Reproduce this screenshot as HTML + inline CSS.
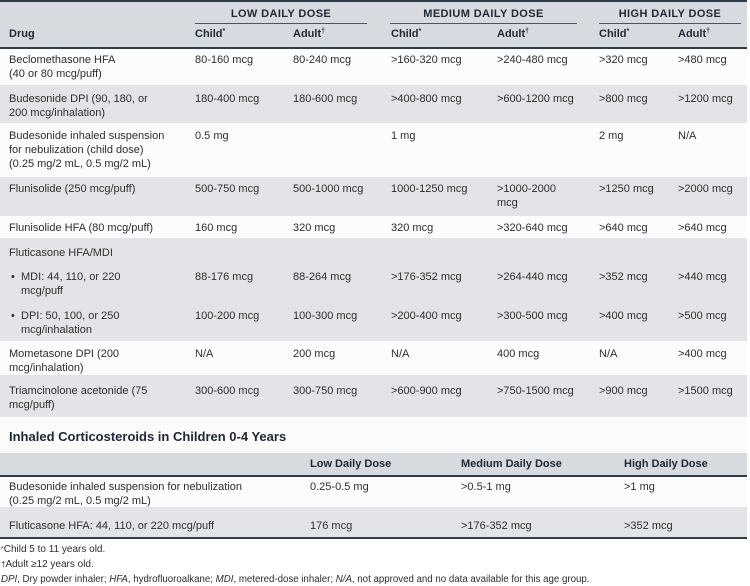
<!DOCTYPE html>
<html>
<head>
<meta charset="utf-8">
<style>
html,body{margin:0;padding:0;background:#fff;}
body{width:750px;height:583px;position:relative;overflow:hidden;font-family:"Liberation Sans",Arial,sans-serif;color:#2e2e2e;}
.r{position:absolute;left:0;width:747px;}
.g{background:#e2e4e7;}
.w{background:#fcfcfc;}
.t{position:absolute;font-size:11px;line-height:14px;white-space:nowrap;}
.h{position:absolute;font-size:11px;line-height:14px;font-weight:bold;color:#1e2733;white-space:nowrap;}
.c{text-align:center;}
.ln{position:absolute;height:1px;background:#4a5563;}
.dk{position:absolute;left:0;width:747px;height:2px;background:#2f3b4a;}
sup{font-size:7px;vertical-align:top;position:relative;top:-2px;}
.f{position:absolute;font-size:10px;line-height:13px;white-space:nowrap;color:#2e2e2e;left:1px;}
</style>
</head>
<body>
<!-- header table 1 -->
<div class="r" style="top:0;height:48px;background:#d7dbe0;"></div>
<div class="dk" style="top:0;"></div>
<div class="dk" style="top:47px;"></div>

<div class="h c" style="left:195px;width:172px;top:7px;letter-spacing:0.4px;">LOW DAILY DOSE</div>
<div class="h c" style="left:390px;width:187px;top:7px;letter-spacing:0.4px;">MEDIUM DAILY DOSE</div>
<div class="h c" style="left:599px;width:142px;top:7px;letter-spacing:0.4px;">HIGH DAILY DOSE</div>
<div class="ln" style="left:195px;width:172px;top:23px;"></div>
<div class="ln" style="left:390px;width:187px;top:23px;"></div>
<div class="ln" style="left:599px;width:142px;top:23px;"></div>

<div class="h" style="left:9px;top:27px;">Drug</div>
<div class="h" style="left:195px;top:27px;">Child<sup>*</sup></div>
<div class="h" style="left:293px;top:27px;">Adult<sup>†</sup></div>
<div class="h" style="left:391px;top:27px;">Child<sup>*</sup></div>
<div class="h" style="left:497px;top:27px;">Adult<sup>†</sup></div>
<div class="h" style="left:599px;top:27px;">Child<sup>*</sup></div>
<div class="h" style="left:678px;top:27px;">Adult<sup>†</sup></div>

<!-- row backgrounds -->
<div class="r w" style="top:49px;height:36px;"></div>
<div class="r g" style="top:85px;height:38px;"></div>
<div class="r w" style="top:123px;height:54px;"></div>
<div class="r g" style="top:177px;height:39px;"></div>
<div class="r w" style="top:216px;height:22px;"></div>
<div class="r g" style="top:238px;height:103px;"></div>
<div class="r w" style="top:341px;height:34px;"></div>
<div class="r g" style="top:375px;height:42px;"></div>

<!-- R1 -->
<div class="t" style="left:9px;top:53px;">Beclomethasone HFA<br>(40 or 80 mcg/puff)</div>
<div class="t" style="left:195px;top:53px;">80-160 mcg</div>
<div class="t" style="left:293px;top:53px;">80-240 mcg</div>
<div class="t" style="left:391px;top:53px;">&gt;160-320 mcg</div>
<div class="t" style="left:497px;top:53px;">&gt;240-480 mcg</div>
<div class="t" style="left:599px;top:53px;">&gt;320 mcg</div>
<div class="t" style="left:678px;top:53px;">&gt;480 mcg</div>

<!-- R2 -->
<div class="t" style="left:9px;top:92px;">Budesonide DPI (90, 180, or<br>200 mcg/inhalation)</div>
<div class="t" style="left:195px;top:92px;">180-400 mcg</div>
<div class="t" style="left:293px;top:92px;">180-600 mcg</div>
<div class="t" style="left:391px;top:92px;">&gt;400-800 mcg</div>
<div class="t" style="left:497px;top:92px;">&gt;600-1200 mcg</div>
<div class="t" style="left:599px;top:92px;">&gt;800 mcg</div>
<div class="t" style="left:678px;top:92px;">&gt;1200 mcg</div>

<!-- R3 -->
<div class="t" style="left:9px;top:129px;">Budesonide inhaled suspension<br>for nebulization (child dose)<br>(0.25 mg/2 mL, 0.5 mg/2 mL)</div>
<div class="t" style="left:195px;top:129px;">0.5 mg</div>
<div class="t" style="left:391px;top:129px;">1 mg</div>
<div class="t" style="left:599px;top:129px;">2 mg</div>
<div class="t" style="left:678px;top:129px;">N/A</div>

<!-- R4 -->
<div class="t" style="left:9px;top:182px;">Flunisolide (250 mcg/puff)</div>
<div class="t" style="left:195px;top:182px;">500-750 mcg</div>
<div class="t" style="left:293px;top:182px;">500-1000 mcg</div>
<div class="t" style="left:391px;top:182px;">1000-1250 mcg</div>
<div class="t" style="left:497px;top:182px;">&gt;1000-2000<br>mcg</div>
<div class="t" style="left:599px;top:182px;">&gt;1250 mcg</div>
<div class="t" style="left:678px;top:182px;">&gt;2000 mcg</div>

<!-- R5 -->
<div class="t" style="left:9px;top:221px;">Flunisolide HFA (80 mcg/puff)</div>
<div class="t" style="left:195px;top:221px;">160 mcg</div>
<div class="t" style="left:293px;top:221px;">320 mcg</div>
<div class="t" style="left:391px;top:221px;">320 mcg</div>
<div class="t" style="left:497px;top:221px;">&gt;320-640 mcg</div>
<div class="t" style="left:599px;top:221px;">&gt;640 mcg</div>
<div class="t" style="left:678px;top:221px;">&gt;640 mcg</div>

<!-- R6 -->
<div class="t" style="left:9px;top:246px;">Fluticasone HFA/MDI</div>
<div class="t" style="left:11px;top:270px;">•</div>
<div class="t" style="left:21px;top:270px;">MDI: 44, 110, or 220<br>mcg/puff</div>
<div class="t" style="left:11px;top:309px;">•</div>
<div class="t" style="left:21px;top:309px;">DPI: 50, 100, or 250<br>mcg/inhalation</div>
<div class="t" style="left:195px;top:270px;">88-176 mcg</div>
<div class="t" style="left:293px;top:270px;">88-264 mcg</div>
<div class="t" style="left:391px;top:270px;">&gt;176-352 mcg</div>
<div class="t" style="left:497px;top:270px;">&gt;264-440 mcg</div>
<div class="t" style="left:599px;top:270px;">&gt;352 mcg</div>
<div class="t" style="left:678px;top:270px;">&gt;440 mcg</div>
<div class="t" style="left:195px;top:309px;">100-200 mcg</div>
<div class="t" style="left:293px;top:309px;">100-300 mcg</div>
<div class="t" style="left:391px;top:309px;">&gt;200-400 mcg</div>
<div class="t" style="left:497px;top:309px;">&gt;300-500 mcg</div>
<div class="t" style="left:599px;top:309px;">&gt;400 mcg</div>
<div class="t" style="left:678px;top:309px;">&gt;500 mcg</div>

<!-- R7 -->
<div class="t" style="left:9px;top:347px;">Mometasone DPI (200<br>mcg/inhalation)</div>
<div class="t" style="left:195px;top:347px;">N/A</div>
<div class="t" style="left:293px;top:347px;">200 mcg</div>
<div class="t" style="left:391px;top:347px;">N/A</div>
<div class="t" style="left:497px;top:347px;">400 mcg</div>
<div class="t" style="left:599px;top:347px;">N/A</div>
<div class="t" style="left:678px;top:347px;">&gt;400 mcg</div>

<!-- R8 -->
<div class="t" style="left:9px;top:384px;">Triamcinolone acetonide (75<br>mcg/puff)</div>
<div class="t" style="left:195px;top:384px;">300-600 mcg</div>
<div class="t" style="left:293px;top:384px;">300-750 mcg</div>
<div class="t" style="left:391px;top:384px;">&gt;600-900 mcg</div>
<div class="t" style="left:497px;top:384px;">&gt;750-1500 mcg</div>
<div class="t" style="left:599px;top:384px;">&gt;900 mcg</div>
<div class="t" style="left:678px;top:384px;">&gt;1500 mcg</div>

<!-- section 2 -->
<div class="r" style="top:417px;height:36px;background:#fbfbfb;"></div>
<div style="position:absolute;left:9px;top:429px;font-size:13px;line-height:16px;font-weight:bold;color:#1e2733;white-space:nowrap;">Inhaled Corticosteroids in Children 0-4 Years</div>

<div class="r" style="top:453px;height:23px;background:#d7dbe0;"></div>
<div class="dk" style="top:475px;"></div>
<div class="h" style="left:310px;top:457px;">Low Daily Dose</div>
<div class="h" style="left:461px;top:457px;">Medium Daily Dose</div>
<div class="h" style="left:624px;top:457px;">High Daily Dose</div>

<div class="r w" style="top:477px;height:30px;"></div>
<div class="r g" style="top:507px;height:30px;"></div>
<div class="dk" style="top:537px;"></div>

<div class="t" style="left:9px;top:480px;">Budesonide inhaled suspension for nebulization<br>(0.25 mg/2 mL, 0.5 mg/2 mL)</div>
<div class="t" style="left:310px;top:480px;">0.25-0.5 mg</div>
<div class="t" style="left:461px;top:480px;">&gt;0.5-1 mg</div>
<div class="t" style="left:624px;top:480px;">&gt;1 mg</div>

<div class="t" style="left:9px;top:519px;">Fluticasone HFA: 44, 110, or 220 mcg/puff</div>
<div class="t" style="left:310px;top:519px;">176 mcg</div>
<div class="t" style="left:461px;top:519px;">&gt;176-352 mcg</div>
<div class="t" style="left:624px;top:519px;">&gt;352 mcg</div>

<!-- footnotes -->
<div class="f" style="top:543px;"><span style="font-size:7px;vertical-align:top;">*</span>Child 5 to 11 years old.</div>
<div class="f" style="top:558px;"><span style="font-size:8px;">†</span>Adult ≥12 years old.</div>
<div class="f" style="top:573px;font-size:9.7px;"><i>DPI</i>, Dry powder inhaler; <i>HFA</i>, hydrofluoroalkane; <i>MDI</i>, metered-dose inhaler; <i>N/A</i>, not approved and no data available for this age group.</div>
</body>
</html>
